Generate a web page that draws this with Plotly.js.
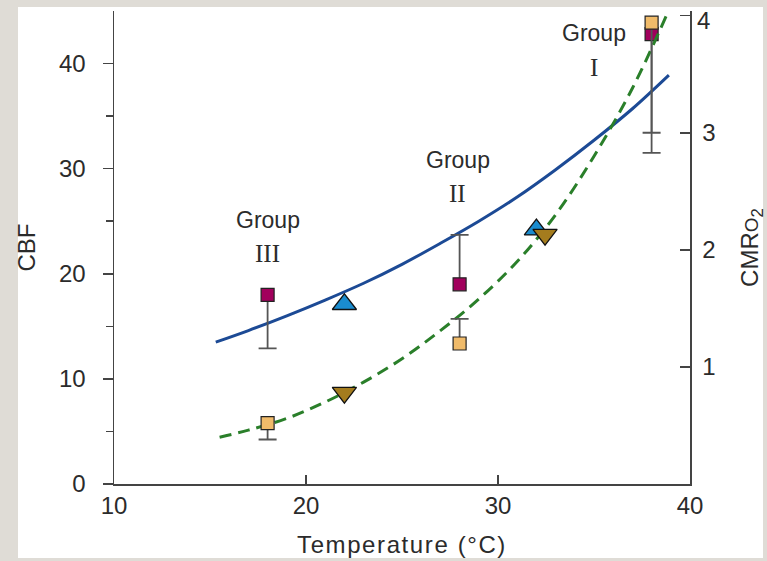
<!DOCTYPE html>
<html>
<head>
<meta charset="utf-8">
<script src="https://cdn.plot.ly/plotly-3.0.1.min.js"></script>
<style>
  html, body { margin: 0; padding: 0; background: #dfdcd6; width: 767px; height: 561px; overflow: hidden; }
  #panel { position: absolute; left: 18px; top: 7px; width: 745px; height: 551px; background: #ffffff; }
  #chart { position: absolute; left: 0; top: 0; width: 767px; height: 561px; }
  #chart .xtitle { letter-spacing: 1.6px; }
</style>
</head>
<body>
<div id="panel"></div>
<div id="chart"></div>
<script>
// ---- data ----
// CBF (left axis) fitted curve
const cbfCurveT = [15.3, 17, 19, 21, 23, 25, 27, 29, 31, 33, 35, 37, 38.9];
const cbfCurve  = [13.5, 14.6, 16.0, 17.5, 19.1, 20.9, 22.9, 25.0, 27.3, 29.9, 32.7, 35.7, 38.9];
// CMRO2 (right axis) fitted curve
const cmrCurveT = [15.5, 17, 19, 21, 23, 25, 27, 29, 31, 33, 35, 37, 38.85];
const cmrCurve  = [0.40, 0.46, 0.56, 0.70, 0.87, 1.07, 1.31, 1.58, 1.90, 2.30, 2.80, 3.38, 4.03];
// group squares
const groupT       = [18, 28, 38];
const cbfGroup     = [18.0, 19.0, 42.8];
const cbfErrPlus   = [0, 4.7, 0];
const cbfErrMinus  = [5.1, 0, 11.3];
const cmrGroup     = [0.52, 1.20, 3.94];
const cmrErrPlus   = [0, 0.21, 0];
const cmrErrMinus  = [0.14, 0, 0.94];
// triangles
const cbfTriT = [22, 32];
const cbfTri  = [17.1, 24.2];
const cmrTriT = [22, 32.45];
const cmrTri  = [0.78, 2.13];
// axis ticks
const xTicks  = [10, 20, 30, 40];
const yTicks  = [0, 10, 20, 30, 40];
const yMinor  = [5, 15, 25, 35];
const y2Ticks = [1, 2, 3, 4];
const y2Labels = ['1', '2', '3', '4'];
const groupLabels = ['III', 'II', 'I'];

// ends of the error bars (where the whiskers sit)
const ends = (vals, plus, minus) => vals.map((v, i) => plus[i] > 0 ? v + plus[i] : v - minus[i]);
const cbfEnds = ends(cbfGroup, cbfErrPlus, cbfErrMinus);
const cmrEnds = ends(cmrGroup, cmrErrPlus, cmrErrMinus);

const sans = 'Liberation Sans, Arial, sans-serif';
const serif = 'Liberation Serif, Times New Roman, serif';
const axisCol = '#444444';
const txtCol = '#2b2b2b';
const errCol = '#555555';

const whisker = (yv, ax) => ({
  x: groupT, y: yv, mode: 'markers', yaxis: ax, hoverinfo: 'skip',
  marker: { size: 1, opacity: 0 },
  error_y: { type: 'constant', value: 0, color: errCol, thickness: 1.8, width: 9 }
});

const traces = [
  { x: cbfCurveT, y: cbfCurve, mode: 'lines', line: { color: '#1c4a95', width: 3, shape: 'spline' }, yaxis: 'y', hoverinfo: 'skip' },
  { x: cmrCurveT, y: cmrCurve, mode: 'lines', line: { color: '#2a7f2a', width: 3, dash: '12px,7px', shape: 'spline' }, yaxis: 'y2', hoverinfo: 'skip' },
  whisker(cbfEnds, 'y'),
  whisker(cmrEnds, 'y2'),
  { x: groupT, y: cbfGroup, mode: 'markers', yaxis: 'y',
    marker: { symbol: 'square', size: 13, color: '#a1005c', line: { color: '#222', width: 1.2 } },
    error_y: { type: 'data', symmetric: false, array: cbfErrPlus, arrayminus: cbfErrMinus, color: errCol, thickness: 1.8, width: 0 } },
  { x: groupT, y: cmrGroup, mode: 'markers', yaxis: 'y2',
    marker: { symbol: 'square', size: 13, color: '#f0bb6a', line: { color: '#222', width: 1.2 } },
    error_y: { type: 'data', symmetric: false, array: cmrErrPlus, arrayminus: cmrErrMinus, color: errCol, thickness: 1.8, width: 0 } },
  { x: cbfTriT, y: cbfTri, mode: 'markers', yaxis: 'y',
    marker: { symbol: 'triangle-up', size: 21, color: '#1a8ccf', line: { color: '#111', width: 1.3 } } },
  { x: cmrTriT, y: cmrTri, mode: 'markers', yaxis: 'y2',
    marker: { symbol: 'triangle-down', size: 21, color: '#a47c1e', line: { color: '#111', width: 1.3 } } }
];

const groupPos = [
  { x: 18.0, yG: 25.1, yN: 21.9 },
  { x: 27.9, yG: 30.8, yN: 27.6 },
  { x: 35.0, yG: 42.9, yN: 39.6 }
];
const annotations = [];
groupPos.forEach((p, i) => {
  annotations.push({ x: p.x, y: p.yG, xref: 'x', yref: 'y', text: 'Group', showarrow: false,
    font: { family: sans, size: 23, color: txtCol } });
  annotations.push({ x: p.x, y: p.yN, xref: 'x', yref: 'y', text: groupLabels[i], showarrow: false,
    font: { family: serif, size: 25, color: txtCol } });
});
// top label of the right axis sits a little below its tick, as in the reference
annotations.push({ x: 1, xref: 'paper', y: y2Ticks[3], yref: 'y2', text: y2Labels[3], showarrow: false,
  xanchor: 'left', yanchor: 'middle', xshift: 5, yshift: -5, font: { family: sans, size: 24, color: txtCol } });

const layout = {
  width: 767, height: 561,
  margin: { l: 114, r: 77, t: 11, b: 77 },
  paper_bgcolor: 'rgba(0,0,0,0)', plot_bgcolor: 'rgba(0,0,0,0)',
  showlegend: false,
  xaxis: {
    range: [10, 40], tickvals: xTicks, ticks: 'inside', ticklen: 9, tickwidth: 1.5, tickcolor: axisCol,
    showline: true, linecolor: axisCol, linewidth: 1.5, showgrid: false, zeroline: false,
    tickfont: { family: sans, size: 24, color: txtCol },
    title: { text: 'Temperature (°C)', font: { family: sans, size: 24, color: txtCol }, standoff: 18 }
  },
  yaxis: {
    range: [0, 45], tickvals: yTicks, ticks: 'outside', ticklen: 10, tickwidth: 1.5, tickcolor: axisCol,
    minor: { tickvals: yMinor, ticks: 'outside', ticklen: 7, tickwidth: 1.5, tickcolor: axisCol },
    showline: true, linecolor: axisCol, linewidth: 1.5, showgrid: false, zeroline: false,
    tickfont: { family: sans, size: 24, color: txtCol }, ticklabelstandoff: 12,
    title: { text: 'CBF', font: { family: sans, size: 24, color: txtCol }, standoff: 16 }
  },
  yaxis2: {
    overlaying: 'y', side: 'right', range: [0, 4.04], tickvals: y2Ticks,
    ticktext: y2Labels.map((t, i) => i === 3 ? '' : t), ticks: 'inside', ticklen: 10,
    tickwidth: 1.5, tickcolor: axisCol,
    showline: true, linecolor: axisCol, linewidth: 1.5, showgrid: false, zeroline: false,
    tickfont: { family: sans, size: 24, color: txtCol }, ticklabelstandoff: 6,
    title: { text: "CMR<span style='font-size:19px'>O</span><sub>2</sub>", font: { family: sans, size: 24, color: txtCol }, standoff: 26 }
  },
  annotations: annotations
};

Plotly.newPlot('chart', traces, layout, { displayModeBar: false, staticPlot: true });
</script>
</body>
</html>
